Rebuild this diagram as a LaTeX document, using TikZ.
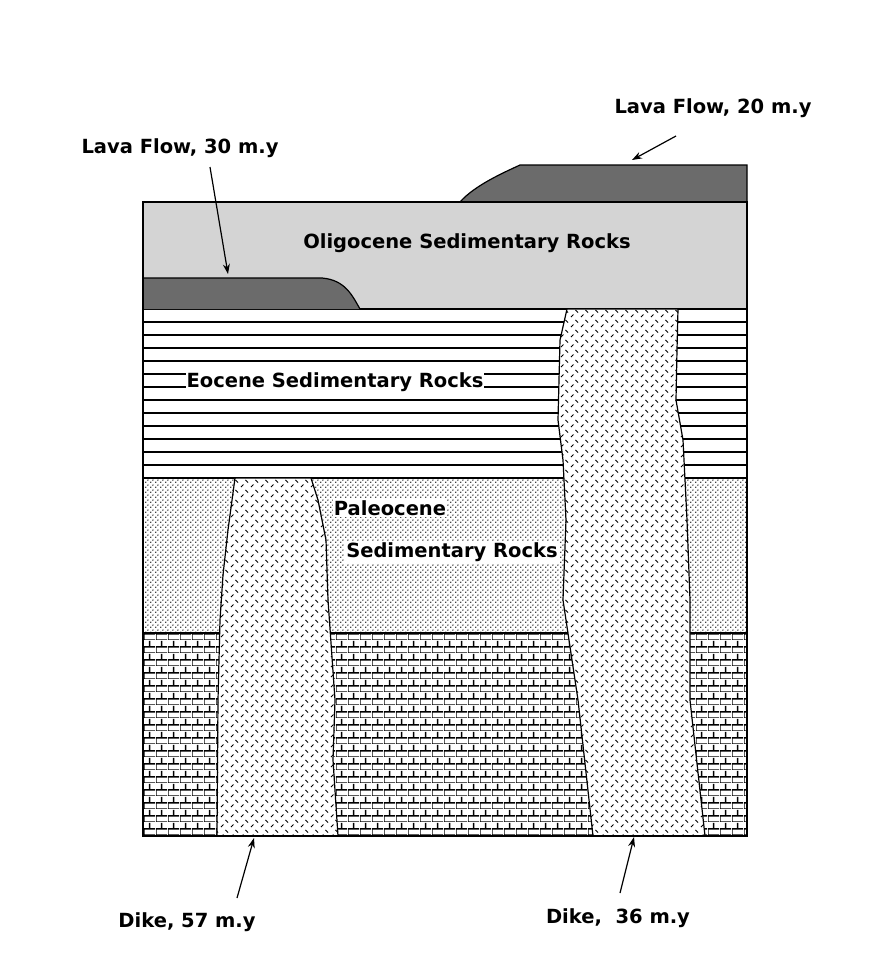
\documentclass[tikz,border=0pt]{standalone}
\usepackage{fontspec}
\setmainfont{DejaVu Sans}
\usetikzlibrary{patterns.meta,arrows.meta}
\tikzdeclarepattern{name=mybricks,type=uncolored,bounding box={(0,0) and (12pt,13pt)},tile size={(12pt,13pt)},
 code={\pgfsetlinewidth{1.6pt}
 \pgfpathmoveto{\pgfpoint{0pt}{0pt}}\pgfpathlineto{\pgfpoint{12pt}{0pt}}
 \pgfpathmoveto{\pgfpoint{0pt}{6.5pt}}\pgfpathlineto{\pgfpoint{12pt}{6.5pt}}
 \pgfpathmoveto{\pgfpoint{0pt}{0pt}}\pgfpathlineto{\pgfpoint{0pt}{6.5pt}}
 \pgfpathmoveto{\pgfpoint{6pt}{6.5pt}}\pgfpathlineto{\pgfpoint{6pt}{13pt}}
 \pgfusepath{stroke}}}
\tikzdeclarepattern{name=mydots,type=uncolored,bounding box={(0,0) and (5pt,5pt)},tile size={(5pt,5pt)},
 code={\pgfpathcircle{\pgfpoint{1pt}{1pt}}{0.85pt}\pgfpathcircle{\pgfpoint{3.5pt}{3.5pt}}{0.85pt}\pgfusepath{fill}}}
\tikzdeclarepattern{name=mydike,type=uncolored,bounding box={(0,0) and (10pt,10pt)},tile size={(10pt,10pt)},
 code={\pgfsetlinewidth{0.9pt}
 \pgfpathmoveto{\pgfpoint{1pt}{1pt}}\pgfpathlineto{\pgfpoint{3.8pt}{3.8pt}}
 \pgfpathmoveto{\pgfpoint{6pt}{8.8pt}}\pgfpathlineto{\pgfpoint{8.8pt}{6pt}}
 \pgfusepath{stroke}}}
\begin{document}
\begin{tikzpicture}[x=1pt,y=-1pt,
 lbl/.style={font=\bfseries\fontsize{19.5}{22}\selectfont},
 wlbl/.style={lbl,fill=white,inner sep=1pt},
 arr/.style={-{Stealth[length=10pt,width=7pt]},line width=1.2pt},
 lava/.style={fill=black!58,draw=black,line width=1.2pt},
 dike/.style={fill=white,draw=black,line width=1.2pt,postaction={pattern=mydike}}]
\useasboundingbox[fill=white] (0,0) rectangle (876,978);
% layers
\fill[black!17] (143,202) rectangle (747,309);
\fill[white] (143,309) rectangle (747,478);
\foreach \y in {309,322,...,478} \draw[line width=1.2pt] (143,\y)--(747,\y);
\fill[pattern=mydots] (143,478) rectangle (747,633);
\draw[line width=1.2pt] (143,633)--(747,633);
\fill[pattern=mybricks] (143,633) rectangle (747,836);
% lava flows
\draw[lava] (143,309)--(143,278)--(322,278) .. controls (345,280) and (352,295) .. (360,309);
\draw[lava] (460,202) .. controls (475,185) and (505,172) .. (520,165)--(747,165)--(747,202);
% dikes
\draw[dike] (235,478)--(228,530)--(223,575)--(220,620)--(218,700)--(217,836)--(338,836)--(333,760)--(335,700)--(328,600)--(326,540)--(318,500)--(311,478)--cycle;
\draw[dike] (567,309)--(560,340)--(558,420)--(563,460)--(566,520)--(563,600)--(578,700)--(593,836)--(705,836)--(690,700)--(690,600)--(687,520)--(683,440)--(676,400)--(677,350)--(678,309)--cycle;
\draw[line width=2.2pt] (143,202) rectangle (747,836);
% labels
\node[lbl] (l30) at (180,148) {Lava Flow, 30 m.y};
\coordinate (t30) at (228,274);
\draw[arr] (210,167) -- (t30);
\node[lbl] (l20) at (713,108) {Lava Flow, 20 m.y};
\coordinate (t20) at (632,160);
\draw[arr] (676,136) -- (t20);
\node[lbl] (oli) at (467,243) {Oligocene Sedimentary Rocks};
\node[wlbl] (eoc) at (335,382) {Eocene Sedimentary Rocks};
\node[wlbl] (pal1) at (390,508) {Paleocene};
\node[wlbl] (pal2) at (452,552) {Sedimentary Rocks};
\node[lbl] (d57) at (187,922) {Dike, 57 m.y};
\coordinate (t57) at (254,838);
\draw[arr] (237,898) -- (t57);
\node[lbl] (d36) at (618,918) {Dike,\ \ 36 m.y};
\coordinate (t36) at (634,837);
\draw[arr] (620,893) -- (t36);
\end{tikzpicture}
\end{document}
